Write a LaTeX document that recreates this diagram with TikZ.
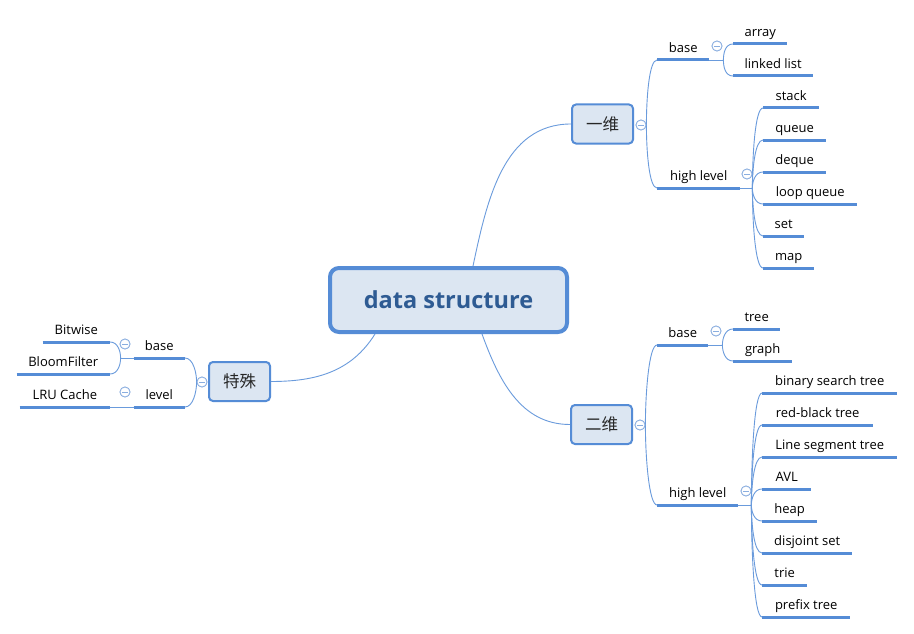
\documentclass[tikz,border=0pt]{standalone}
\usepackage{fontspec}
\setmainfont{Open Sans}
\newfontfamily\cjk{Noto Sans CJK SC}
\usetikzlibrary{calc}
\definecolor{bblue}{HTML}{558CD6}
\definecolor{lblue}{HTML}{6A9BDC}
\definecolor{nfill}{HTML}{DCE6F2}
\definecolor{ctext}{HTML}{2E5B93}
\definecolor{fblue}{HTML}{8AAEE0}
\begin{document}
\begin{tikzpicture}[x=1pt,y=1pt,
  mainbox/.style={draw=bblue, line width=4pt, fill=nfill, rounded corners=9pt,
    minimum width=237pt, minimum height=64pt, inner sep=0pt,
    font=\fontsize{23.5}{26}\selectfont\bfseries, text=ctext},
  topic/.style={draw=bblue, line width=2pt, fill=nfill, rounded corners=4pt,
    minimum width=61pt, minimum height=39pt, inner sep=0pt,
    font=\cjk\fontsize{16.5}{18}\selectfont, text=black!85},
  lab/.style={minimum width=#1pt, inner xsep=0pt, inner ysep=4pt,
    text height=9pt, text depth=3pt, font=\fontsize{13}{15}\selectfont, text=black},
  lw/.style={lab=#1, anchor=south west},
  le/.style={lab=#1, anchor=south east},
  uline/.style={draw=bblue, line width=3pt},
  conn/.style={draw=lblue, line width=0.9pt},
  fanline/.style={to path={.. controls ($(\tikztostart)!0.4!(\tikztostart|-\tikztotarget)$) and ($(\tikztotarget)+(#1,0)$) .. (\tikztotarget)}},
  fanline/.default=-8pt,
  fold/.style={circle, draw=fblue, fill=white, line width=0.8pt, minimum size=10pt, inner sep=0pt,
    path picture={\draw[fblue, line width=0.8pt] ([xshift=-2.6pt]path picture bounding box.center) -- ([xshift=2.6pt]path picture bounding box.center);}}
]
\fill[white] (0,0) rectangle (914,-634);
\useasboundingbox (0,0) rectangle (914,-634);

% main and topic nodes
\node[mainbox] (ds) at (448.5,-300) {data structure};
\node[topic] (yw) at (602.5,-124) {一维};
\node[topic] (ew) at (601.5,-424.5) {二维};
\node[topic] (ts) at (239.5,-381.5) {特殊};

% 一维 branch
\node[lw=52] (ywbase) at (657,-60) {base};
\node[lw=83] (ywhigh) at (657,-188) {high level};
\node[lw=54] (array) at (733,-44) {array};
\node[lw=80] (linked) at (733,-76) {linked list};
\node[lw=56] (stack) at (763,-108) {stack};
\node[lw=63] (queue) at (763,-140) {queue};
\node[lw=63] (deque) at (763,-172) {deque};
\node[lw=94] (loopq) at (763,-204) {loop queue};
\node[lw=41] (set) at (763,-236) {set};
\node[lw=51] (map) at (763,-268) {map};

% 二维 branch
\node[lw=51] (ewbase) at (657,-345) {base};
\node[lw=81] (ewhigh) at (657,-505) {high level};
\node[lw=47] (tree) at (733,-329) {tree};
\node[lw=59] (graph) at (733,-361) {graph};
\node[lw=135] (bst) at (762,-393) {binary search tree};
\node[lw=111] (rbt) at (762,-425) {red-black tree};
\node[lw=135] (lst) at (762,-457) {Line segment tree};
\node[lw=49] (avl) at (762,-489) {AVL};
\node[lw=55] (heap) at (762,-521) {heap};
\node[lw=90] (dsu) at (762,-553) {disjoint set};
\node[lw=45] (trie) at (762,-585) {trie};
\node[lw=88] (prefix) at (762,-617) {prefix tree};

% 特殊 branch
\node[le=51] (tsbase) at (185,-358) {base};
\node[le=51] (tslevel) at (185,-407) {level};
\node[le=67] (bitwise) at (110,-342) {Bitwise};
\node[le=93] (bloom) at (110,-374) {BloomFilter};
\node[le=90] (lru) at (110,-407) {LRU Cache};

% underlines
\foreach \n in {ywbase,ywhigh,array,linked,stack,queue,deque,loopq,set,map,
  ewbase,ewhigh,tree,graph,bst,rbt,lst,avl,heap,dsu,trie,prefix,
  tsbase,tslevel,bitwise,bloom,lru}
  \draw[uline] (\n.south west) -- (\n.south east);

% collapse markers
\node[fold] (cyw) at (641,-125) {};
\node[fold] (cew) at (640,-425) {};
\node[fold] (cts) at (202,-382) {};
\node[fold] (cywb) at (717,-46) {};
\node[fold] (cywh) at (747,-174) {};
\node[fold] (cewb) at (716,-331) {};
\node[fold] (cewh) at (746,-491) {};
\node[fold] (ctsb) at (125,-344) {};
\node[fold] (ctsl) at (125,-392) {};

% main connectors
\draw[conn] ([xshift=24.5pt]ds.north) to[out=78,in=180] (yw.west);
\draw[conn] ([xshift=33.5pt]ds.south) to[out=-70,in=180] (ew.west);
\draw[conn] ([xshift=-73.5pt]ds.south) to[out=-122,in=0] (ts.east);

% 一维 connectors
\draw[conn] (cyw.east) to[fanline] (ywbase.south west);
\draw[conn] (cyw.east) to[fanline] (ywhigh.south west);
\draw[conn] (ywbase.south east) -- ++(14,0) coordinate (jywb);
\draw[conn] (jywb) to[fanline] (array.south west);
\draw[conn] (jywb) to[fanline] (linked.south west);
\draw[conn] (ywhigh.south east) -- ++(12,0) coordinate (jywh);
\foreach \n in {stack,queue,deque,loopq,set,map}
  \draw[conn] (jywh) to[fanline] (\n.south west);

% 二维 connectors
\draw[conn] (cew.east) to[fanline] (ewbase.south west);
\draw[conn] (cew.east) to[fanline] (ewhigh.south west);
\draw[conn] (ewbase.south east) -- ++(14,0) coordinate (jewb);
\draw[conn] (jewb) to[fanline] (tree.south west);
\draw[conn] (jewb) to[fanline] (graph.south west);
\draw[conn] (ewhigh.south east) -- ++(13,0) coordinate (jewh);
\foreach \n in {bst,rbt,lst,avl,heap,dsu,trie,prefix}
  \draw[conn] (jewh) to[fanline] (\n.south west);

% 特殊 connectors
\draw[conn] (cts.west) to[fanline=8pt] (tsbase.south east);
\draw[conn] (cts.west) to[fanline=8pt] (tslevel.south east);
\draw[conn] (tsbase.south west) -- ++(-13,0) coordinate (jtsb);
\draw[conn] (jtsb) to[fanline=8pt] (bitwise.south east);
\draw[conn] (jtsb) to[fanline=8pt] (bloom.south east);
\draw[conn] (tslevel.south west) -- (lru.south east);

% markers on top of connectors
\foreach \c in {cyw,cew,cts,cywb,cywh,cewb,cewh,ctsb,ctsl}
  \node[fold] at (\c.center) {};
\end{tikzpicture}
\end{document}
